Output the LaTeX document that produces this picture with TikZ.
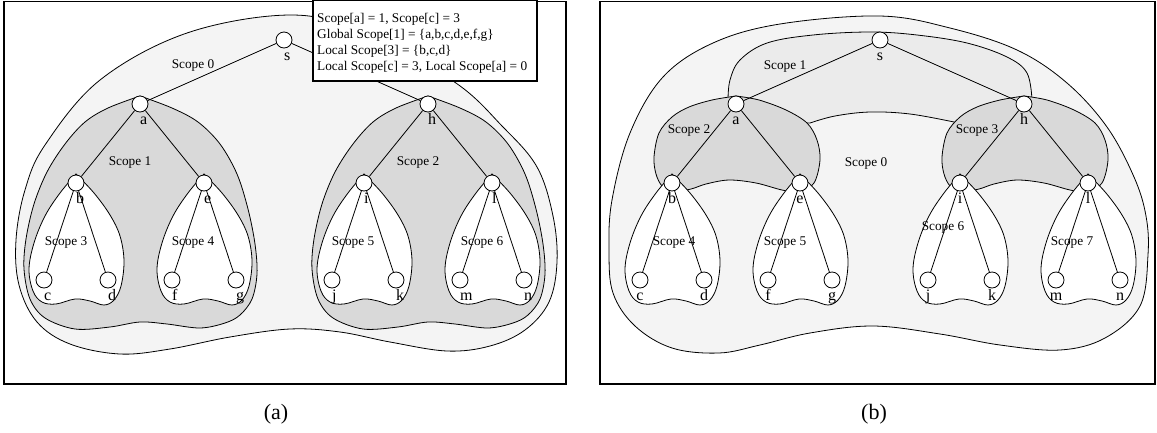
\documentclass[tikz,border=0pt]{standalone}
\usepackage{fontspec}
\setmainfont{Liberation Serif}
\definecolor{gOut}{gray}{0.955}
\definecolor{gMid}{gray}{0.92}
\definecolor{gDark}{gray}{0.85}
\tikzset{
  vtx/.style={circle, draw, fill=white, minimum size=16pt, inner sep=0pt, line width=0.8pt},
  lbla/.style={anchor=base west, inner sep=0pt, font=\fontsize{16}{18}\selectfont},
  lblb/.style={anchor=base, inner sep=0pt, font=\fontsize{16}{18}\selectfont},
  edge/.style={line width=0.8pt},
  region/.style={draw, line width=0.8pt},
  scopelbl/.style={inner sep=0pt, font=\fontsize{13.3}{16}\selectfont},
  framest/.style={draw, line width=1.6pt},
  infobox/.style={draw, fill=white, line width=1.6pt, minimum width=224pt, minimum height=81pt, inner sep=0pt},
  infotxt/.style={anchor=base west, inner sep=0pt, font=\fontsize{13.3}{16}\selectfont},
  caption/.style={inner sep=0pt, font=\fontsize{22}{26}\selectfont}
}
\newcommand\tn[4]{%
  \node[vtx] (#1) at (#2,#3) {};
  \node[#4] (#1-t) at (#2,#3+20) {#1};}
\newcommand\mytree[1]{%
  \tn{s}{284}{40}{#1}\tn{a}{140}{104}{#1}\tn{h}{428}{104}{#1}%
  \tn{b}{76}{183}{#1}\tn{e}{204}{183}{#1}\tn{i}{364}{183}{#1}\tn{l}{492}{183}{#1}%
  \tn{c}{44}{280}{#1}\tn{d}{108}{280}{#1}\tn{f}{172}{280}{#1}\tn{g}{236}{280}{#1}%
  \tn{j}{332}{280}{#1}\tn{k}{396}{280}{#1}\tn{m}{460}{280}{#1}\tn{n}{524}{280}{#1}%
  \foreach \u/\v in {s/a,s/h,a/b,a/e,h/i,h/l,b/c,b/d,e/f,e/g,i/j,i/k,l/m,l/n}
    \draw[edge] (\u) -- (\v);}
% leaf teardrop, relative to parent
\newcommand\tear[2]{%
  \draw[region, fill=white, shift={(#1,#2)}] plot[smooth, tension=0.6] coordinates {
    (0,-9) (-16,10) (-31,33) (-42,60) (-47,86) (-43,108) (-34,119) (-20,121)
    (-1,116) (14,118) (28,122) (38,117) (45,103) (48,78) (44,53) (34,32) (18,10) (0,-9)} -- cycle;}
% middle scope of panel (a), relative to a / h
\newcommand\midA[2]{%
  \draw[region, fill=gDark, shift={(#1,#2)}] plot[smooth, tension=0.55] coordinates {
    (0,-8) (32,4) (58,18) (80,40) (97,70) (108,105) (115,140) (117,170) (112,195)
    (100,211) (85,219) (60,224) (27,220) (0,218) (-30,223) (-65,225) (-95,214)
    (-110,195) (-116,165) (-114,135) (-106,100) (-93,68) (-75,40) (-55,18) (-32,4) (0,-8)} -- cycle;}
% middle scopes of panel (b), relative to a / h
\newcommand\midB[2]{%
  \draw[region, fill=gDark, shift={(#1,#2)}] plot[smooth, tension=0.55] coordinates {
    (0,-8) (23,-4) (50,6) (71,19) (81,36) (84,56) (78,79) (63,88) (46,86) (20,79)
    (-7,76) (-30,80) (-45,85) (-64,88) (-74,82) (-80,70) (-82,53) (-77,29) (-64,13)
    (-47,3) (-24,-4) (0,-8)} -- cycle;}
\begin{document}
\begin{tikzpicture}[x=1pt,y=-1pt]
\useasboundingbox (0,0) rectangle (1157,432);
%================ panel (a)
\draw[framest, fill=white] (4,1.5) rectangle (566,384);
\draw[region, fill=gOut] plot[smooth cycle, tension=0.6] coordinates {
  (290,15) (360,32) (453,81) (503,127) (537,167) (553,216) (557,262) (549,302)
  (525,330) (490,346) (447,351) (390,342) (340,332) (290,329) (230,337) (170,349)
  (120,354) (70,344) (37,322) (19,285) (16,240) (25,190) (45,145) (100,80) (187,33)};
\midA{140}{104}
\midA{428}{104}
\tear{76}{183}\tear{204}{183}\tear{364}{183}\tear{492}{183}
\begin{scope}[name prefix=A-]
  \mytree{lbla}
\end{scope}
\node[scopelbl] (A-sc0) at (193,65) {Scope 0};
\node[scopelbl] (A-sc1) at (130,163) {Scope 1};
\node[scopelbl] (A-sc2) at (418,163) {Scope 2};
\node[scopelbl] (A-sc3) at (66,243) {Scope 3};
\node[scopelbl] (A-sc4) at (193,243) {Scope 4};
\node[scopelbl] (A-sc5) at (353,243) {Scope 5};
\node[scopelbl] (A-sc6) at (482,243) {Scope 6};
\node[infobox] (info) at (425,40.5) {};
\node[infotxt] (info1) at (317,22.5) {Scope[a] = 1, Scope[c] = 3};
\node[infotxt] (info2) at (317,38.5) {Global Scope[1] = \{a,b,c,d,e,f,g\}};
\node[infotxt] (info3) at (317,54.5) {Local Scope[3] = \{b,c,d\}};
\node[infotxt] (info4) at (317,70.5) {Local Scope[c] = 3, Local Scope[a] = 0};
\node[caption] (capA) at (276,414) {(a)};
%================ panel (b)
\draw[framest, fill=white] (600,1.5) rectangle (1155,384);
\draw[region, fill=gOut] plot[smooth cycle, tension=0.6] coordinates {
  (880,16) (950,28) (1017,50) (1067,83) (1107,127) (1134,177) (1146,216) (1148,255)
  (1140,306) (1105,338) (1060,350) (1000,345) (940,334) (873,326) (810,333) (760,345)
  (719,353) (672,348) (635,326) (613,293) (609,250) (612,200) (630,133) (663,77)
  (713,43) (780,24)};
\draw[region, fill=gMid] plot[smooth, tension=0.6] coordinates {
  (728,100) (730,80) (740,60) (767,43) (813,35) (870,32) (917,35) (967,43) (1007,57)
  (1027,73) (1032,100)} -- (1000,125) -- plot[smooth, tension=0.6] coordinates {
  (954,122) (910,114) (870,112) (835,116) (810,123)} -- (760,125) -- cycle;
\midB{736}{104}
\midB{1024}{104}
\tear{672}{183}\tear{800}{183}\tear{960}{183}\tear{1088}{183}
\begin{scope}[xshift=596pt, name prefix=B-]
  \mytree{lblb}
\end{scope}
\node[scopelbl] (B-sc0) at (866,163) {Scope 0};
\node[scopelbl] (B-sc1) at (785,67) {Scope 1};
\node[scopelbl] (B-sc2) at (689,131) {Scope 2};
\node[scopelbl] (B-sc3) at (977,131) {Scope 3};
\node[scopelbl] (B-sc4) at (674,243) {Scope 4};
\node[scopelbl] (B-sc5) at (785,243) {Scope 5};
\node[scopelbl] (B-sc6) at (943,228) {Scope 6};
\node[scopelbl] (B-sc7) at (1072,243) {Scope 7};
\node[caption] (capB) at (874,414) {(b)};
\end{tikzpicture}
\end{document}
